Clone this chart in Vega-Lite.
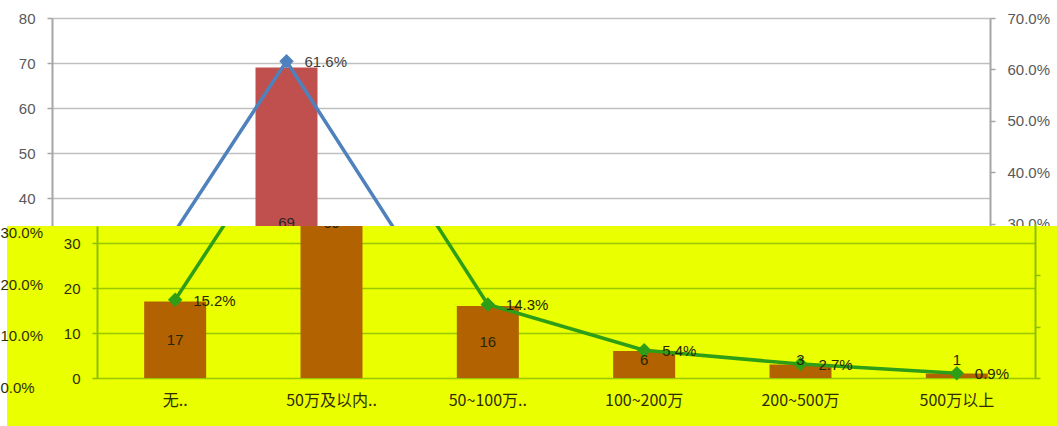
{
  "$schema": "https://vega.github.io/schema/vega-lite/v6.json",
  "background": "#FFFFFF",
  "padding": 0,
  "bounds": "flush",
  "spacing": 0,
  "config": {"view": {"stroke": null}, "font": "Liberation Sans"},
  "data": {"values": [
    {"cat": "无..", "count": 17, "pct": 0.152},
    {"cat": "50万及以内..", "count": 69, "pct": 0.616},
    {"cat": "50~100万..", "count": 16, "pct": 0.143},
    {"cat": "100~200万", "count": 6, "pct": 0.054},
    {"cat": "200~500万", "count": 3, "pct": 0.027},
    {"cat": "500万以上", "count": 1, "pct": 0.009}
  ]},
  "vconcat": [
    {
      "width": 1057,
      "height": 226,
      "resolve": {"scale": {"y": "independent"}},
      "layer": [
        {
          "mark": {"type": "bar", "color": "#C0504D"},
          "encoding": {
            "x": {"field": "cat", "type": "nominal", "sort": null, "scale": {"range": [52, 990], "paddingInner": 0.6034, "paddingOuter": 0.3017}, "axis": null},
            "y": {"field": "count", "type": "quantitative", "scale": {"domain": [0, 80], "range": [378, 18], "nice": false},
                  "axis": {"orient": "left", "offset": -52, "title": null, "values": [40, 50, 60, 70, 80], "grid": true, "gridColor": "#C0C0C0", "gridWidth": 1.5, "domainColor": "#A6A6A6", "domainWidth": 2, "tickColor": "#A6A6A6", "tickSize": 5, "tickWidth": 1.5, "labelColor": "#595959", "labelFontSize": 15, "labelPadding": 12}},
            "y2": {"datum": 0}
          }
        },
        {
          "mark": {"type": "line", "color": "#4F81BD", "strokeWidth": 3.5},
          "encoding": {
            "x": {"field": "cat", "type": "nominal", "sort": null, "scale": {"range": [52, 990], "paddingInner": 0.6034, "paddingOuter": 0.3017}, "axis": null},
            "y": {"field": "pct", "type": "quantitative", "scale": {"domain": [0, 0.7], "range": [378, 18], "nice": false},
                  "axis": {"orient": "right", "offset": -67, "title": null, "values": [0.3, 0.4, 0.5, 0.6, 0.7], "format": ".1%", "grid": false, "domainColor": "#A6A6A6", "domainWidth": 2, "tickColor": "#A6A6A6", "tickSize": 5, "tickWidth": 1.5, "labelColor": "#595959", "labelFontSize": 15, "labelPadding": 12}}
          }
        },
        {
          "mark": {"type": "point", "shape": "diamond", "size": 210, "filled": true, "opacity": 1, "color": "#4F81BD"},
          "encoding": {
            "x": {"field": "cat", "type": "nominal", "sort": null, "scale": {"range": [52, 990], "paddingInner": 0.6034, "paddingOuter": 0.3017}, "axis": null},
            "y": {"field": "pct", "type": "quantitative", "scale": {"domain": [0, 0.7], "range": [378, 18], "nice": false}, "axis": null}
          }
        },
        {
          "transform": [{"filter": "datum.count > 60"}],
          "mark": {"type": "text", "fontSize": 15, "color": "#262626", "baseline": "middle"},
          "encoding": {
            "x": {"field": "cat", "type": "nominal", "sort": null, "scale": {"range": [52, 990], "paddingInner": 0.6034, "paddingOuter": 0.3017}, "axis": null},
            "y": {"field": "count", "type": "quantitative", "scale": {"domain": [0, 160], "range": [378, 18], "nice": false}, "axis": null},
            "text": {"field": "count", "type": "quantitative"}
          }
        },
        {
          "transform": [{"filter": "datum.pct > 0.3"}],
          "mark": {"type": "text", "fontSize": 15, "color": "#404040", "align": "left", "baseline": "middle", "dx": 18, "dy": 1},
          "encoding": {
            "x": {"field": "cat", "type": "nominal", "sort": null, "scale": {"range": [52, 990], "paddingInner": 0.6034, "paddingOuter": 0.3017}, "axis": null},
            "y": {"field": "pct", "type": "quantitative", "scale": {"domain": [0, 0.7], "range": [378, 18], "nice": false}, "axis": null},
            "text": {"field": "pct", "type": "quantitative", "format": ".1%"}
          }
        }
      ]
    },
    {
      "bounds": "flush",
      "spacing": 0,
      "hconcat": [
        {"width": 7, "height": 200, "data": {"values": []}, "mark": "point"},
        {
          "width": 1050,
          "height": 200,
          "view": {"fill": "#EAFF00", "stroke": null},
          "resolve": {"scale": {"y": "independent"}},
          "layer": [
            {
              "mark": {"type": "bar", "color": "#B26200", "clip": true},
              "encoding": {
                "x": {"field": "cat", "type": "nominal", "sort": null, "scale": {"range": [90, 1028], "paddingInner": 0.6034, "paddingOuter": 0.3017}, "axis": null},
                "y": {"field": "count", "type": "quantitative", "scale": {"domain": [0, 33.778], "range": [152, 0], "nice": false},
                      "axis": {"orient": "left", "offset": -90, "title": null, "values": [0, 10, 20, 30], "grid": true, "gridColor": "#98C800", "gridWidth": 1.5, "domainColor": "#8DBF00", "domainWidth": 2, "tickColor": "#8DBF00", "tickSize": 5, "tickWidth": 1.5, "labelColor": "#2E2E00", "labelFontSize": 15, "labelPadding": 12}},
                "y2": {"datum": 0}
              }
            },
            {
              "mark": {"type": "text", "font": "Noto Sans CJK SC", "fontSize": 16, "color": "#2E2E00", "baseline": "middle"},
              "encoding": {
                "x": {"field": "cat", "type": "nominal", "sort": null, "scale": {"range": [90, 1028], "paddingInner": 0.6034, "paddingOuter": 0.3017},
                      "axis": {"orient": "bottom", "offset": -48, "title": null, "tickOffset": -78.17, "labels": false, "grid": false, "domainColor": "#8DBF00", "domainWidth": 2, "tickColor": "#8DBF00", "tickSize": 5, "tickWidth": 1.5}},
                "y": {"datum": -5.1, "type": "quantitative", "scale": {"domain": [0, 33.778], "range": [152, 0], "nice": false}, "axis": null},
                "text": {"field": "cat", "type": "nominal"}
              }
            },
            {
              "mark": {"type": "line", "color": "#2E9E16", "strokeWidth": 3.5, "clip": true},
              "encoding": {
                "x": {"field": "cat", "type": "nominal", "sort": null, "scale": {"range": [90, 1028], "paddingInner": 0.6034, "paddingOuter": 0.3017}, "axis": null},
                "y": {"field": "pct", "type": "quantitative", "scale": {"domain": [0, 0.3], "range": [152, -2.29], "nice": false},
                      "axis": {"orient": "right", "offset": -22, "title": null, "values": [0, 0.1, 0.2], "labels": false, "grid": false, "domainColor": "#8DBF00", "domainWidth": 2, "tickColor": "#8DBF00", "tickSize": 5, "tickWidth": 1.5}}
              }
            },
            {
              "mark": {"type": "point", "shape": "diamond", "size": 210, "filled": true, "opacity": 1, "color": "#2E9E16", "clip": true},
              "encoding": {
                "x": {"field": "cat", "type": "nominal", "sort": null, "scale": {"range": [90, 1028], "paddingInner": 0.6034, "paddingOuter": 0.3017}, "axis": null},
                "y": {"field": "pct", "type": "quantitative", "scale": {"domain": [0, 0.3], "range": [152, -2.29], "nice": false}, "axis": null}
              }
            },
            {
              "transform": [{"filter": "datum.count >= 10"}],
              "mark": {"type": "text", "fontSize": 15, "color": "#262600", "baseline": "middle", "clip": true},
              "encoding": {
                "x": {"field": "cat", "type": "nominal", "sort": null, "scale": {"range": [90, 1028], "paddingInner": 0.6034, "paddingOuter": 0.3017}, "axis": null},
                "y": {"field": "count", "type": "quantitative", "scale": {"domain": [0, 67.556], "range": [152, 0], "nice": false}, "axis": null},
                "text": {"field": "count", "type": "quantitative"}
              }
            },
            {
              "transform": [{"filter": "datum.count < 10"}],
              "mark": {"type": "text", "fontSize": 15, "color": "#262600", "baseline": "middle", "clip": true},
              "encoding": {
                "x": {"field": "cat", "type": "nominal", "sort": null, "scale": {"range": [90, 1028], "paddingInner": 0.6034, "paddingOuter": 0.3017}, "axis": null},
                "y": {"datum": 4, "type": "quantitative", "scale": {"domain": [0, 33.778], "range": [152, 0], "nice": false}, "axis": null},
                "text": {"field": "count", "type": "quantitative"}
              }
            },
            {
              "mark": {"type": "text", "fontSize": 15, "color": "#262600", "align": "left", "baseline": "middle", "dx": 18, "dy": 1, "clip": true},
              "encoding": {
                "x": {"field": "cat", "type": "nominal", "sort": null, "scale": {"range": [90, 1028], "paddingInner": 0.6034, "paddingOuter": 0.3017}, "axis": null},
                "y": {"field": "pct", "type": "quantitative", "scale": {"domain": [0, 0.3], "range": [152, -2.29], "nice": false},
                      "axis": {"orient": "right", "offset": -1057, "title": null, "values": [0, 0.1, 0.2, 0.3], "format": ".1%", "ticks": false, "domain": false, "grid": false, "labelPadding": 0, "labelOffset": 9, "labelColor": "#2E2E00", "labelFontSize": 15}},
                "text": {"field": "pct", "type": "quantitative", "format": ".1%"}
              }
            }
          ]
        }
      ]
    }
  ]
}
